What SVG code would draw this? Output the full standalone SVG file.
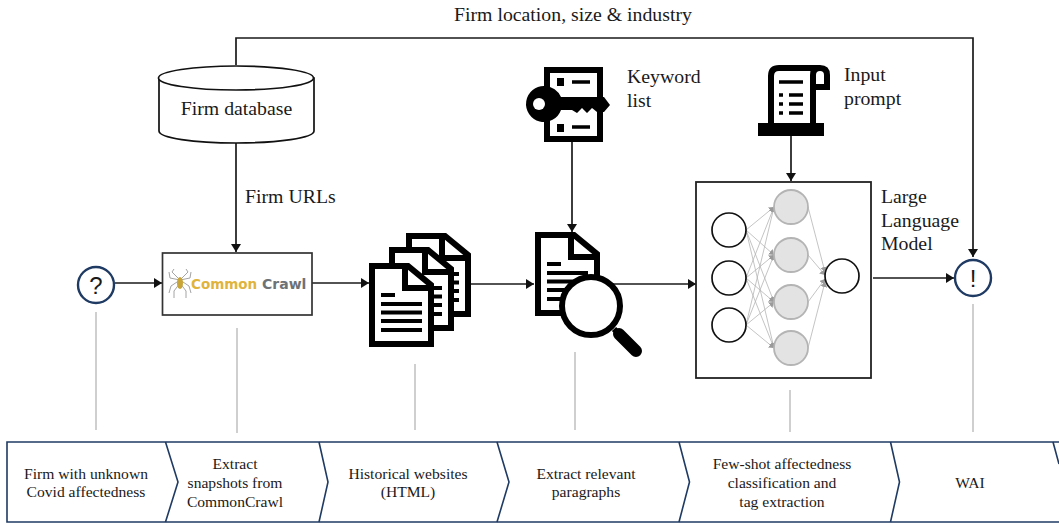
<svg xmlns="http://www.w3.org/2000/svg" xmlns:xlink="http://www.w3.org/1999/xlink" width="1059" height="523" viewBox="0 0 1059 523">
<style>
text{font-family:"Liberation Serif","Times New Roman",serif;fill:#1a1a1a}
.l{font-size:19.800px}
.r{font-size:15.600px;text-anchor:middle}
.c{fill:none;stroke:#1a1a1a;stroke-width:1.7}
.g{fill:none;stroke:#c4c4c4;stroke-width:1.6}
.n{fill:none;stroke:#b5b5b5;stroke-width:.8}
.ni{fill:#fff;stroke:#111;stroke-width:1.7}
.nh{fill:#e3e3e3;stroke:#b4b4b4;stroke-width:1.8}
.st{fill:#fff;stroke:#1f3a63;stroke-width:2.4}
.k{fill:#000}
.ks{stroke:#000;fill:none}
</style>
<defs>
<marker id="a" markerUnits="userSpaceOnUse" markerWidth="9" markerHeight="10" refX="8" refY="5" orient="auto"><path d="M0 0L8 5L0 10z" fill="#111"/></marker>
<marker id="b" markerUnits="userSpaceOnUse" markerWidth="6" markerHeight="7" refX="5" refY="3.5" orient="auto"><path d="M0 0L5 3.5L0 7z" fill="#9a9a9a"/></marker>
<g id="doc">
<path d="M3 3H39L62 22V81H3z" fill="#fff" stroke="#000" stroke-width="6"/>
<path d="M36 3V25H62" fill="none" stroke="#000" stroke-width="6"/>
<path d="M12 32H26M12 41H53M12 49.500H53M12 58H53M12 67H53" fill="none" stroke="#000" stroke-width="4"/>
</g>
</defs>

<g id="connectors">
<path class="c" d="M236 65V38H973V257" marker-end="url(#a)"/>
<path class="c" d="M236 143V252" marker-end="url(#a)"/>
<path class="c" d="M115 283H162" marker-end="url(#a)"/>
<path class="c" d="M312 283H369" marker-end="url(#a)"/>
<path class="c" d="M471 284H534" marker-end="url(#a)"/>
<path class="c" d="M600 284H696" marker-end="url(#a)"/>
<path class="c" d="M572 142V232" marker-end="url(#a)"/>
<path class="c" d="M791 136V181" marker-end="url(#a)"/>
<path class="c" d="M873 278H954" marker-end="url(#a)"/>
<path class="g" d="M96 312V430M237 328V433M415 364V430M575 352V430M790 390V432M973 304V432"/>
</g>

<text class="l" x="454" y="21">Firm location, size &amp; industry</text>

<g id="firm-database">
<path d="M159 78V131C159 138 194 143 236 143S314 138 314 131V78z" fill="#fff" stroke="#111" stroke-width="1.7"/>
<ellipse cx="236" cy="78" rx="77.500" ry="12" fill="#fff" stroke="#111" stroke-width="1.7"/>
<text class="l" x="236.500" y="115" text-anchor="middle">Firm database</text>
</g>
<text id="firm-urls" class="l" x="245" y="203">Firm URLs</text>

<g id="question">
<circle class="st" cx="96" cy="285" r="18"/>
<text x="96" y="294" text-anchor="middle" style="font-family:'Liberation Sans',sans-serif;font-size:24px">?</text>
</g>

<g id="common-crawl">
<rect x="162.500" y="253" width="149.500" height="62" fill="#fff" stroke="#333" stroke-width="1.7"/>
<g fill="none" stroke="#a4a4a4" stroke-width="1">
<path d="M180 280L172 272L174 269M180 280L170 278L169 272M180 280L171 286L169 293M180 283L174 291L174 298M180 280L188 272L186 269M180 280L190 278L191 272M180 280L189 286L191 293M180 283L186 291L186 298"/>
</g>
<ellipse cx="180" cy="283" rx="3" ry="6" fill="#c9a436"/>
<text x="191" y="289" style="font-family:'DejaVu Sans',sans-serif;font-size:13.500px;font-weight:bold;fill:#e0b43c">Common</text>
<text x="262" y="289" style="font-family:'DejaVu Sans',sans-serif;font-size:14px;font-weight:bold;fill:#6d7276">Crawl</text>
</g>

<g id="historical-websites">
<use xlink:href="#doc" href="#doc" x="406" y="233"/>
<use xlink:href="#doc" href="#doc" x="389" y="247"/>
<use xlink:href="#doc" href="#doc" x="369" y="263"/>
</g>

<g id="extract-paragraphs">
<use xlink:href="#doc" href="#doc" x="535" y="232"/>
<circle cx="591" cy="306" r="29" fill="#fff" stroke="#000" stroke-width="6"/>
<path d="M614 329L620 335" stroke="#000" stroke-width="6" fill="none"/>
<path d="M619 334L636 351" stroke="#000" stroke-width="12" stroke-linecap="round" fill="none"/>
</g>

<g id="keyword-list">
<rect x="547" y="70" width="53" height="69" fill="#fff" stroke="#000" stroke-width="6"/>
<path class="k" d="M557 78h7v8h-7zM557 124h7v8h-7z"/>
<path class="ks" stroke-width="3.500" d="M572 82H590M572 127H590"/>
<path class="k" d="M545 86A18 18 0 0 1 561 97H604L610 105L604 112H597L592 108L587 113L582 108L577 113L572 110H561A18 18 0 1 1 545 86z"/>
<circle cx="539" cy="104" r="6" fill="#fff"/>
<text class="l" x="627" y="83">Keyword</text>
<text class="l" x="627" y="107">list</text>
</g>

<g id="input-prompt">
<path d="M771 123V76Q771 68 779 68H820Q827 68 827 75V87H813V123" fill="#fff" stroke="#000" stroke-width="6"/>
<path d="M813 87V75Q813 68 820 68" fill="none" stroke="#000" stroke-width="6"/>
<rect class="k" x="758" y="123" width="66" height="13"/>
<path class="ks" stroke-width="3.500" d="M779 82H803M779 95H783M789 95H803M779 104H783M789 104H803M779 113H783M789 113H803"/>
<text class="l" x="844" y="81">Input</text>
<text class="l" x="844" y="105">prompt</text>
</g>

<g id="llm">
<rect x="696" y="182" width="175" height="196" fill="#fff" stroke="#222" stroke-width="1.800"/>
<g>
<path class="n" marker-end="url(#b)" d="M746 230L774 207"/><path class="n" marker-end="url(#b)" d="M746 230L774 255"/><path class="n" marker-end="url(#b)" d="M746 230L774 302"/><path class="n" marker-end="url(#b)" d="M746 230L774 348"/>
<path class="n" marker-end="url(#b)" d="M746 278L774 207"/><path class="n" marker-end="url(#b)" d="M746 278L774 255"/><path class="n" marker-end="url(#b)" d="M746 278L774 302"/><path class="n" marker-end="url(#b)" d="M746 278L774 348"/>
<path class="n" marker-end="url(#b)" d="M746 325L774 207"/><path class="n" marker-end="url(#b)" d="M746 325L774 255"/><path class="n" marker-end="url(#b)" d="M746 325L774 302"/><path class="n" marker-end="url(#b)" d="M746 325L774 348"/>
<path class="n" marker-end="url(#b)" d="M808 207L825 272"/><path class="n" marker-end="url(#b)" d="M808 255L825 275"/><path class="n" marker-end="url(#b)" d="M808 302L825 279"/><path class="n" marker-end="url(#b)" d="M808 348L825 282"/>
</g>
<circle class="ni" cx="729" cy="230" r="17"/><circle class="ni" cx="729" cy="278" r="17"/><circle class="ni" cx="729" cy="325" r="17"/>
<circle class="nh" cx="791" cy="207" r="17"/><circle class="nh" cx="791" cy="255" r="17"/><circle class="nh" cx="791" cy="302" r="17"/><circle class="nh" cx="791" cy="348" r="17"/>
<circle class="ni" cx="842" cy="276" r="17"/>
<text class="l" x="881" y="203">Large</text>
<text class="l" x="881" y="227">Language</text>
<text class="l" x="881" y="250">Model</text>
</g>

<g id="exclaim">
<circle class="st" cx="973" cy="278" r="18"/>
<text x="973" y="287" text-anchor="middle" style="font-family:'Liberation Sans',sans-serif;font-size:24px;font-weight:300">!</text>
</g>

<g id="ribbon" fill="none" stroke="#1f3a63" stroke-width="1.600">
<path d="M1059 442H7V522H1059"/>
<path d="M165.500 442L178 482L165.500 522M319 442L328 482L319 522M497 442L509 482L497 522M679 442L689.500 482L679 522M890.500 442L899.500 482L890.500 522M1053 442L1059 464"/>
</g>
<g id="step-1"><text class="r" x="86" y="479">Firm with unknown</text><text class="r" x="86" y="497">Covid affectedness</text></g>
<g id="step-2"><text class="r" x="235" y="469">Extract</text><text class="r" x="235" y="488">snapshots from</text><text class="r" x="235" y="507">CommonCrawl</text></g>
<g id="step-3"><text class="r" x="408" y="479">Historical websites</text><text class="r" x="408" y="497">(HTML)</text></g>
<g id="step-4"><text class="r" x="586" y="479">Extract relevant</text><text class="r" x="586" y="497">paragraphs</text></g>
<g id="step-5"><text class="r" x="782" y="469">Few-shot affectedness</text><text class="r" x="782" y="488">classification and</text><text class="r" x="782" y="507">tag extraction</text></g>
<g id="step-6"><text class="r" x="970" y="488">WAI</text></g>
</svg>
